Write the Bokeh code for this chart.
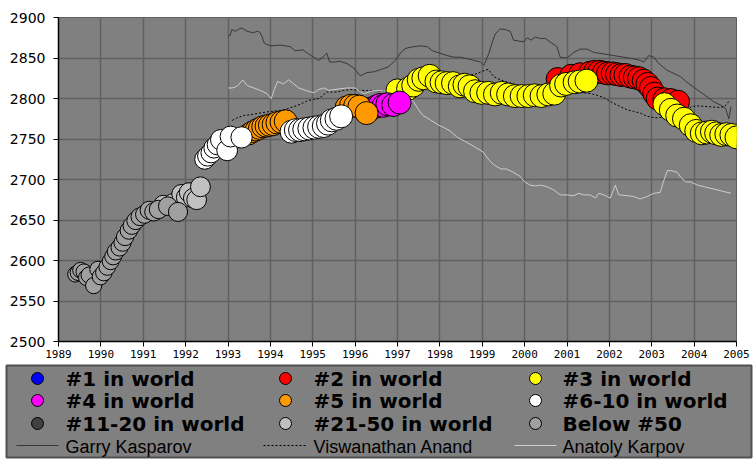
from bokeh.plotting import figure
from bokeh.models import Range1d, FixedTicker, ColumnDataSource
from bokeh.core.properties import value
from bokeh.embed import file_html
from bokeh.resources import INLINE

# ---------------- data ----------------
years_ticks = list(range(1989, 2006))
year_labels = [str(y) for y in years_ticks]
rating_ticks = list(range(2500, 2901, 50))
rating_labels = [str(r) for r in rating_ticks]

rank_keys = ["#1", "#2", "#3", "#4", "#5", "#6-10", "#11-20", "#21-50", "b50"]
rank_labels = ["#1 in world", "#2 in world", "#3 in world",
               "#4 in world", "#5 in world", "#6-10 in world",
               "#11-20 in world", "#21-50 in world", "Below #50"]

pt_year = [
    1989.40, 1989.46, 1989.52, 1989.60, 1989.66, 1989.72, 1989.83, 1989.93, 1989.99, 1990.07,
    1990.15, 1990.23, 1990.29, 1990.35, 1990.44, 1990.51, 1990.57, 1990.66, 1990.73, 1990.82,
    1990.92, 1991.03, 1991.14, 1991.25, 1991.36, 1991.47, 1991.58, 1991.71, 1991.82, 1991.90,
    1992.01, 1992.08, 1992.18, 1992.26, 1992.35,
    1992.45, 1992.52, 1992.60, 1992.67, 1992.75, 1992.83, 1992.98, 1993.06, 1993.32,
    1993.49, 1993.58, 1993.66, 1993.74, 1993.82, 1993.90, 1993.98, 1994.07, 1994.16, 1994.26, 1994.36,
    1994.50, 1994.60, 1994.70, 1994.80, 1994.92, 1995.04, 1995.15, 1995.26, 1995.36, 1995.45, 1995.56, 1995.67,
    1995.80, 1995.90, 1996.00, 1996.10, 1996.27,
    1996.40, 1996.50, 1996.58, 1996.67, 1996.76, 1996.90, 1997.05,
    1997.00, 1997.25, 1997.37, 1997.50, 1997.61, 1997.76, 1997.92, 1998.04, 1998.16, 1998.31,
    1998.47, 1998.58, 1998.70, 1998.83, 1998.98, 1999.14, 1999.30, 1999.46, 1999.61, 1999.77,
    1999.93, 2000.09, 2000.24, 2000.40, 2000.56, 2000.70,
    2000.78, 2000.86, 2000.98, 2001.10, 2001.18, 2001.31, 2001.30, 2001.46,
    2001.55, 2001.66, 2001.76, 2001.87, 2001.97, 2002.08, 2002.18, 2002.28, 2002.38, 2002.50,
    2002.60, 2002.70, 2002.81, 2002.90, 2002.98, 2003.06, 2003.14, 2003.30, 2003.45, 2003.62,
    2003.30, 2003.45, 2003.60, 2003.76, 2003.92, 2004.05, 2004.18, 2004.30, 2004.42, 2004.52,
    2004.64, 2004.76, 2004.88, 2005.00,
]
pt_rating = [
    2583, 2585, 2588, 2586, 2579, 2582, 2569, 2589, 2580, 2585,
    2592, 2599, 2605, 2611, 2616, 2622, 2629, 2637, 2643, 2649,
    2654, 2657, 2662, 2660, 2663, 2669, 2667, 2671, 2660, 2682,
    2678, 2684, 2677, 2675, 2691,
    2725, 2729, 2733, 2739, 2743, 2749, 2736, 2753, 2752,
    2756, 2759, 2761, 2763, 2765, 2766, 2767, 2768, 2770, 2771, 2772,
    2759, 2761, 2761, 2762, 2763, 2764, 2765, 2766, 2769, 2773, 2775, 2778,
    2789, 2791, 2791, 2790, 2782,
    2788, 2790, 2792, 2791, 2793, 2792, 2795,
    2810, 2812, 2816, 2823, 2825, 2828, 2821, 2820, 2819, 2819,
    2815, 2817, 2815, 2809, 2807, 2807, 2805, 2807, 2805, 2803,
    2803, 2803, 2804, 2803, 2805, 2806,
    2824, 2816, 2818, 2828, 2820, 2830, 2821, 2822,
    2832, 2833, 2833, 2832, 2831, 2831, 2830, 2829, 2829, 2827,
    2826, 2825, 2822, 2818, 2813, 2806, 2800, 2799, 2798, 2796,
    2793, 2786, 2779, 2775, 2767, 2760, 2757, 2758, 2759, 2757,
    2755, 2756, 2755, 2752,
]
pt_rank = (
    ["b50"] * 25 + ["#21-50", "b50", "#21-50", "b50", "#21-50",
                    "#21-50", "#21-50", "#21-50", "#21-50", "#21-50"]
    + ["#6-10"] * 9
    + ["#5"] * 11
    + ["#6-10"] * 12
    + ["#5"] * 5
    + ["#4"] * 7
    + ["#3"] * 26
    + ["#2", "#3", "#3", "#2", "#3", "#2", "#3", "#3"]
    + ["#2"] * 20
    + ["#3"] * 14
)

kasp_year = [1993.00, 1993.05, 1993.09, 1993.18, 1993.27, 1993.33, 1993.45, 1993.60, 1993.68, 1993.75,
             1993.80, 1993.86, 1994.00, 1994.24, 1994.47, 1994.58, 1994.77, 1994.87, 1995.02, 1995.14,
             1995.26, 1995.33, 1995.40, 1995.50, 1995.65, 1995.81, 1995.96, 1996.12, 1996.28, 1996.45,
             1996.62, 1996.78, 1996.93, 1997.00, 1997.10, 1997.20, 1997.38, 1997.55, 1997.70, 1997.82,
             1998.00, 1998.17, 1998.33, 1998.49, 1998.65, 1998.81, 1998.96, 1999.04, 1999.16, 1999.24,
             1999.31, 1999.43, 1999.55, 1999.66, 1999.74, 1999.86, 1999.98, 2000.06, 2000.15, 2000.25,
             2000.37, 2000.49, 2000.60, 2000.76, 2000.84, 2001.00, 2001.16, 2001.31, 2001.47, 2001.63,
             2001.87, 2002.10, 2002.34, 2002.57, 2002.73, 2002.81, 2002.93, 2003.05, 2003.17, 2003.36,
             2003.52, 2003.68, 2003.83, 2003.99, 2004.15, 2004.31, 2004.46, 2004.62, 2004.74, 2004.82,
             2004.87]
kasp_rating = [2877, 2878, 2885, 2883, 2886, 2887, 2883, 2881, 2883, 2882,
               2877, 2868, 2865, 2866, 2864, 2859, 2860, 2856, 2851, 2847,
               2852, 2856, 2845, 2845, 2846, 2843, 2838, 2828, 2832, 2833,
               2836, 2839, 2846, 2851, 2858, 2862, 2864, 2865, 2864, 2859,
               2856, 2853, 2851, 2851, 2849, 2847, 2845, 2841, 2856, 2870,
               2880, 2886, 2885, 2883, 2872, 2871, 2870, 2875, 2872, 2876,
               2874, 2874, 2870, 2864, 2851, 2850, 2857, 2861, 2861, 2857,
               2855, 2853, 2851, 2849, 2847, 2845, 2853, 2851, 2843, 2835,
               2831, 2827, 2820, 2814, 2808, 2802, 2796, 2792, 2788, 2775,
               2790]

anand_year = [1993.10, 1993.21, 1993.37, 1993.53, 1993.75, 1994.00, 1994.20, 1994.39, 1994.55, 1994.71,
              1994.87, 1995.02, 1995.15, 1995.33, 1995.45, 1995.57, 1995.73, 1995.90, 1996.10, 1996.30,
              1996.47, 1996.59, 1996.75, 1996.95, 1997.15, 1997.40, 1997.65, 1997.90, 1998.20, 1998.50,
              1998.70, 1998.83, 1999.02, 1999.14, 1999.27, 1999.43, 1999.60, 1999.80, 2000.00, 2000.30,
              2000.60, 2000.90, 2001.20, 2001.55, 2001.71, 2001.87, 2002.10, 2002.26, 2002.42, 2002.57,
              2002.73, 2002.89, 2003.10, 2003.40, 2003.70, 2003.95, 2004.04, 2004.32, 2004.60, 2004.72,
              2004.83]
anand_rating = [2773, 2776, 2779, 2780, 2782, 2784, 2785, 2787, 2790, 2793,
                2797, 2799, 2800, 2808, 2808, 2808, 2810, 2811, 2810, 2810,
                2810, 2809, 2810, 2808, 2806, 2808, 2812, 2815, 2820, 2825,
                2829, 2830, 2834, 2836, 2827, 2823, 2820, 2817, 2815, 2812,
                2810, 2808, 2808, 2806, 2804, 2801, 2794, 2790, 2786, 2784,
                2782, 2778, 2776, 2778, 2784, 2790, 2791, 2790, 2789, 2790,
                2797]

karp_year = [1993.00, 1993.10, 1993.21, 1993.28, 1993.35, 1993.45, 1993.61, 1993.76, 1993.92, 1994.02,
             1994.10, 1994.17, 1994.31, 1994.43, 1994.55, 1994.67, 1994.83, 1995.02, 1995.14, 1995.26,
             1995.38, 1995.50, 1995.65, 1995.81, 1996.00, 1996.13, 1996.22, 1996.38, 1996.51, 1996.75,
             1996.99, 1997.23, 1997.38, 1997.50, 1997.60, 1997.76, 1997.94, 1998.10, 1998.24, 1998.41,
             1998.63, 1998.83, 1999.02, 1999.16, 1999.28, 1999.44, 1999.57, 1999.73, 1999.89, 2000.00,
             2000.13, 2000.25, 2000.37, 2000.53, 2000.69, 2000.84, 2001.00, 2001.16, 2001.28, 2001.39,
             2001.55, 2001.67, 2001.75, 2001.87, 2002.02, 2002.14, 2002.22, 2002.42, 2002.57, 2002.73,
             2002.89, 2003.05, 2003.20, 2003.28, 2003.37, 2003.44, 2003.60, 2003.68, 2003.80, 2003.92,
             2004.08, 2004.24, 2004.40, 2004.56, 2004.71, 2004.87]
karp_rating = [2813, 2813, 2815, 2819, 2823, 2816, 2813, 2810, 2806, 2800,
               2812, 2821, 2818, 2823, 2818, 2813, 2810, 2807, 2811, 2813,
               2810, 2811, 2812, 2813, 2813, 2808, 2806, 2809, 2810, 2809,
               2808, 2802, 2796, 2786, 2779, 2774, 2768, 2764, 2760, 2752,
               2746, 2740, 2734, 2724, 2718, 2713, 2713, 2709, 2704, 2697,
               2693, 2692, 2693, 2691, 2687, 2681, 2681, 2680, 2683, 2681,
               2681, 2677, 2683, 2681, 2677, 2693, 2681, 2680, 2679, 2676,
               2679, 2683, 2684, 2698, 2711, 2711, 2709, 2703, 2697, 2697,
               2693, 2691, 2689, 2687, 2685, 2683]

player_names = ["Garry Kasparov", "Viswanathan Anand", "Anatoly Karpov"]

# ---------------- styles ----------------
rank_colors = {"#1": "#0000ff", "#2": "#ff0000", "#3": "#ffff00", "#4": "#ff00ff",
               "#5": "#ff9900", "#6-10": "#ffffff", "#11-20": "#404040",
               "#21-50": "#c0c0c0", "b50": "#a0a0a0"}
player_colors = ["#383838", "#000000", "#cccccc"]
player_dash = ["solid", "2 2", "solid"]

# ---------------- main chart ----------------
W = 756
MAIN_H = 362
LEG_H = 100
p = figure(width=W, height=MAIN_H, output_backend="svg", toolbar_location=None,
           x_range=Range1d(1989, 2005), y_range=Range1d(2500, 2900),
           min_border_left=58, min_border_right=20, min_border_top=17, min_border_bottom=21)
p.background_fill_color = "#808080"
p.border_fill_color = "white"
p.outline_line_color = "#606060"

p.xaxis.ticker = FixedTicker(ticks=years_ticks)
p.xaxis.major_label_overrides = dict(zip(years_ticks, year_labels))
p.yaxis.ticker = FixedTicker(ticks=rating_ticks)
p.yaxis.major_label_overrides = dict(zip(rating_ticks, rating_labels))
for ax in (p.xaxis, p.yaxis):
    ax.axis_line_color = "black"
    ax.axis_line_width = 1.5
    ax.major_tick_line_color = "black"
    ax.major_tick_in = 0
    ax.major_tick_out = 5
    ax.minor_tick_line_color = None
    ax.major_label_text_color = "black"
p.xaxis.major_label_text_font = "DejaVu Sans Mono"
p.xaxis.major_label_text_font_size = "11px"
p.xaxis.major_label_standoff = 3
p.yaxis.major_label_text_font = "DejaVu Sans"
p.yaxis.major_label_text_font_size = "14px"
p.yaxis.major_label_standoff = 8
p.grid.grid_line_color = "#606060"
p.grid.grid_line_width = 1.5

lines = [(kasp_year, kasp_rating), (anand_year, anand_rating), (karp_year, karp_rating)]
for (xs, ys), c, d in zip(lines, player_colors, player_dash):
    p.line(xs, ys, line_color=c, line_width=1, line_dash=d)

for key in rank_keys:
    idx = [i for i, r in enumerate(pt_rank) if r == key]
    if not idx:
        continue
    xs = [pt_year[i] for i in idx]
    ys = [pt_rating[i] for i in idx]
    sz = [15 + 8 * min(1.0, max(0.0, (x - 1989) / 5.5)) for x in xs]
    src = ColumnDataSource(dict(x=xs, y=ys, s=sz))
    p.scatter("x", "y", size="s", source=src, fill_color=rank_colors[key],
              line_color="black", line_width=1)

# ---------------- legend panel (separate root, page coordinates) ----------------
leg = figure(width=W, height=LEG_H, output_backend="svg", toolbar_location=None,
             x_range=Range1d(0, W), y_range=Range1d(MAIN_H + LEG_H, MAIN_H),
             min_border=0, x_axis_type=None, y_axis_type=None)
leg.grid.visible = False
leg.outline_line_color = None
leg.background_fill_color = "white"
leg.border_fill_color = "white"
leg.quad(left=[6], right=[751], top=[365], bottom=[457],
         fill_color="#808080", line_color="#505050", line_width=2)

col_circle_x = [37, 285, 535]
col_text_x = [65, 313, 562]
row_y = [378, 400, 423, 445]
for i, (key, lab) in enumerate(zip(rank_keys, rank_labels)):
    r, c = divmod(i, 3)
    leg.scatter([col_circle_x[c]], [row_y[r]], size=12, fill_color=rank_colors[key],
                line_color="black", line_width=1)
    leg.text([col_text_x[c]], [row_y[r]], text=[lab], text_font=value("DejaVu Sans"),
             text_font_size="20px", text_font_style="bold", text_baseline="middle",
             text_color="black")
line_x0 = [16, 263, 514]
line_x1 = [58, 306, 556]
for j, name in enumerate(player_names):
    leg.line([line_x0[j], line_x1[j]], [row_y[3], row_y[3]], line_color=player_colors[j],
             line_width=1, line_dash=player_dash[j])
    leg.text([col_text_x[j]], [row_y[3] + 1], text=[name], text_font=value("Liberation Sans"),
             text_font_size="18px", text_baseline="middle", text_color="black")

open("out.html", "w").write(file_html([p, leg], INLINE))
